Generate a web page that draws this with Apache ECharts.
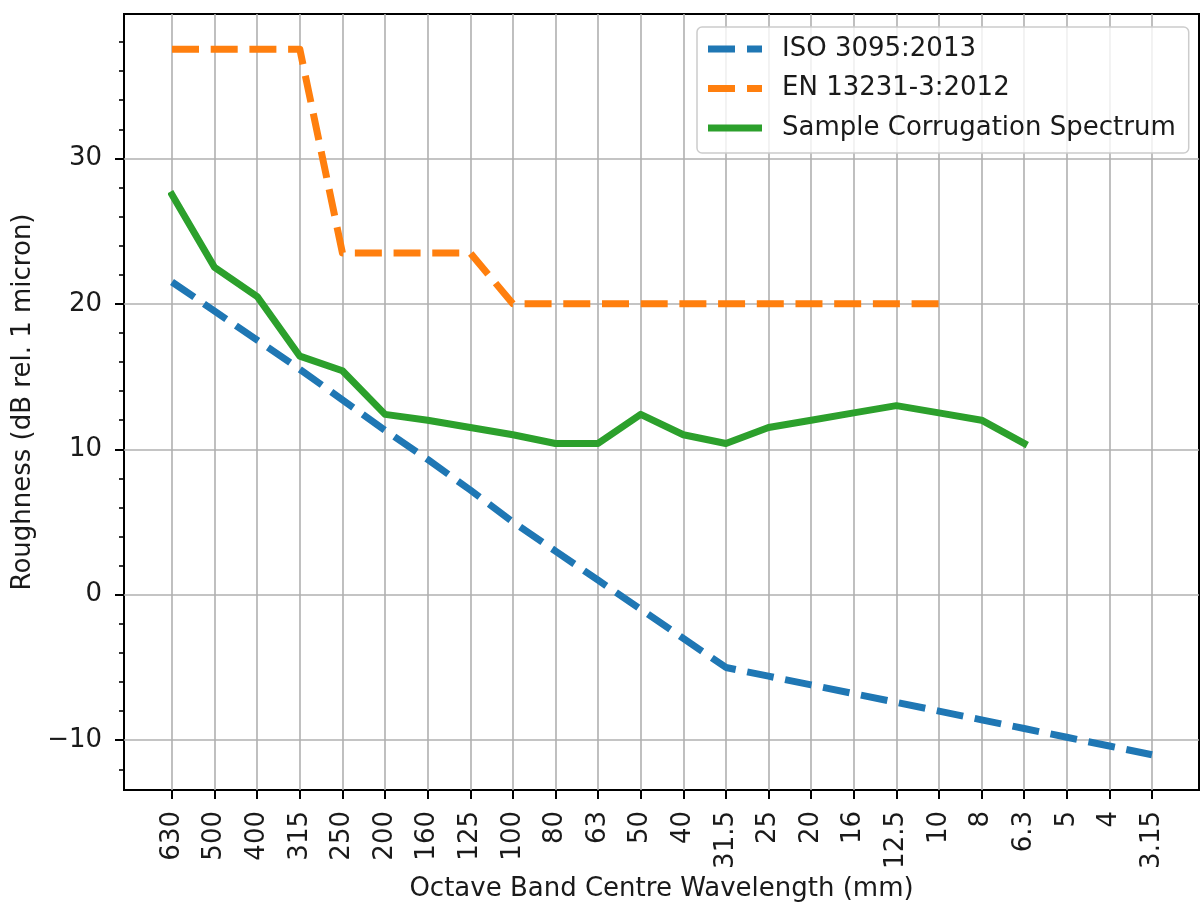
<!DOCTYPE html>
<html>
<head>
<meta charset="utf-8">
<title>Roughness spectra</title>
<script src="https://cdn.jsdelivr.net/npm/echarts@6/dist/echarts.min.js"></script>
<style>
  html, body { margin: 0; padding: 0; background: #fff; }
  #chart { width: 1201px; height: 902px; }
</style>
</head>
<body>
<div id="chart"></div>
<script>
// Octave band centre wavelengths (mm), longest first
const categories = ['630', '500', '400', '315', '250', '200', '160', '125', '100', '80', '63',
  '50', '40', '31.5', '25', '20', '16', '12.5', '10', '8', '6.3', '5', '4', '3.15'];

// Roughness levels, dB rel. 1 micron
const isoLimit = [21.5, 19.5, 17.5, 15.5, 13.4, 11.3, 9.3, 7.2, 5.0, 3.0, 1.0,
  -1.0, -3.0, -5.0, -5.6, -6.2, -6.8, -7.4, -8.0, -8.6, -9.2, -9.8, -10.4, -11.0];
const enLimit = [37.5, 37.5, 37.5, 37.5, 23.5, 23.5, 23.5, 23.5, 20, 20, 20,
  20, 20, 20, 20, 20, 20, 20, 20];
const sampleSpectrum = [27.5, 22.5, 20.5, 16.4, 15.4, 12.4, 12.0, 11.5, 11.0, 10.4, 10.4,
  12.4, 11.0, 10.4, 11.5, 12.0, 12.5, 13.0, 12.5, 12.0, 10.4];

const seriesNames = ['ISO 3095:2013', 'EN 13231-3:2012', 'Sample Corrugation Spectrum'];
const yTicks = [-10, 0, 10, 20, 30];

// y range padded by 5% of the data span on each side
const allVals = isoLimit.concat(enLimit, sampleSpectrum);
const dMin = Math.min.apply(null, allVals);
const dMax = Math.max.apply(null, allVals);
const pad = (dMax - dMin) * 0.05;
const yMin = dMin - pad;
const yMax = dMax + pad;

const FONT = 'DejaVu Sans';
const TXT = '#1a1a1a';
const GRID_C = '#b0b0b0';
const dash = [27, 11.7];

// legend handles: dashed and solid strokes drawn as filled bars
const ICON_DASHED = 'path://M0,0H27V7H0Z M39,0H54V7H39Z';
const ICON_SOLID = 'path://M0,0H54V7H0Z';

const chart = echarts.init(document.getElementById('chart'), null, { renderer: 'canvas' });

const frame = { left: 124, top: 14, right: 2, bottom: 112 };
// inner grid spans first to last category, leaving the 5% margin of the frame
const inner = { left: 172, top: 14, right: 49, bottom: 112 };

chart.setOption({
  animation: false,
  backgroundColor: '#fff',
  textStyle: { fontFamily: FONT },
  grid: [
    Object.assign({ show: true, borderColor: '#000', borderWidth: 2, backgroundColor: 'transparent', z: 0,
      containLabel: false, outerBoundsMode: 'none' }, frame),
    Object.assign({ show: false, containLabel: false, outerBoundsMode: 'none' }, inner)
  ],
  legend: {
    data: [
      { name: seriesNames[0], icon: ICON_DASHED },
      { name: seriesNames[1], icon: ICON_DASHED },
      { name: seriesNames[2], icon: ICON_SOLID }
    ],
    orient: 'vertical',
    left: 697,
    top: 27,
    padding: [9, 13, 12, 11],
    itemWidth: 54,
    itemHeight: 26,
    itemGap: 13.5,
    symbolKeepAspect: true,
    backgroundColor: 'rgba(255,255,255,0.8)',
    borderColor: '#cccccc',
    borderWidth: 1.5,
    borderRadius: 5,
    textStyle: { fontFamily: FONT, fontSize: 26, color: TXT, padding: [0, 0, 0, 15], lineHeight: 26 }
  },
  xAxis: [
    {
      gridIndex: 0, type: 'value', min: 0, max: 1,
      axisLine: { show: false }, axisTick: { show: false }, axisLabel: { show: false },
      splitLine: { show: false },
      name: 'Octave Band Centre Wavelength (mm)',
      nameLocation: 'middle', nameGap: 86,
      nameTextStyle: { fontFamily: FONT, fontSize: 26, color: TXT }
    },
    {
      gridIndex: 1, type: 'category', data: categories, boundaryGap: false,
      axisLine: { show: false, onZero: false },
      axisTick: { show: true, interval: 0, length: 9, lineStyle: { color: '#000', width: 2 } },
      axisLabel: { interval: 0, rotate: 90, margin: 21, fontFamily: FONT, fontSize: 26, color: TXT, hideOverlap: false },
      splitLine: { show: true, interval: 0, lineStyle: { color: GRID_C, width: 1.6 } }
    }
  ],
  yAxis: [
    {
      gridIndex: 0, type: 'value', min: yMin, max: yMax, splitNumber: 5,
      axisLine: { show: false },
      axisTick: { show: true, length: 9, customValues: yTicks, lineStyle: { color: '#000', width: 2 } },
      minorTick: { show: true, splitNumber: 5, length: 5, lineStyle: { color: '#000', width: 1.6 } },
      axisLabel: {
        margin: 22, fontFamily: FONT, fontSize: 26, color: TXT,
        showMinLabel: false, showMaxLabel: false,
        formatter: function (v) { return String(Math.round(v)).replace('-', '\u2212'); }
      },
      splitLine: { show: true, lineStyle: { color: GRID_C, width: 1.6 } },
      name: 'Roughness (dB rel. 1 micron)',
      nameLocation: 'middle', nameRotate: 90, nameGap: 86,
      nameTextStyle: { fontFamily: FONT, fontSize: 26, color: TXT }
    },
    {
      gridIndex: 1, type: 'value', min: yMin, max: yMax, show: false
    }
  ],
  series: [
    {
      name: seriesNames[0], type: 'line', xAxisIndex: 1, yAxisIndex: 1,
      data: isoLimit, symbol: 'none', showSymbol: false,
      lineStyle: { color: '#1f77b4', width: 7, type: dash, cap: 'butt', join: 'round' },
      itemStyle: { color: '#1f77b4' }, z: 3
    },
    {
      name: seriesNames[1], type: 'line', xAxisIndex: 1, yAxisIndex: 1,
      data: enLimit, symbol: 'none', showSymbol: false,
      lineStyle: { color: '#ff7f0e', width: 7, type: dash, cap: 'butt', join: 'round' },
      itemStyle: { color: '#ff7f0e' }, z: 3
    },
    {
      name: seriesNames[2], type: 'line', xAxisIndex: 1, yAxisIndex: 1,
      data: sampleSpectrum, symbol: 'none', showSymbol: false,
      lineStyle: { color: '#2ca02c', width: 7, type: 'solid', cap: 'square', join: 'round' },
      itemStyle: { color: '#2ca02c' }, z: 3
    }
  ]
});
</script>
</body>
</html>
